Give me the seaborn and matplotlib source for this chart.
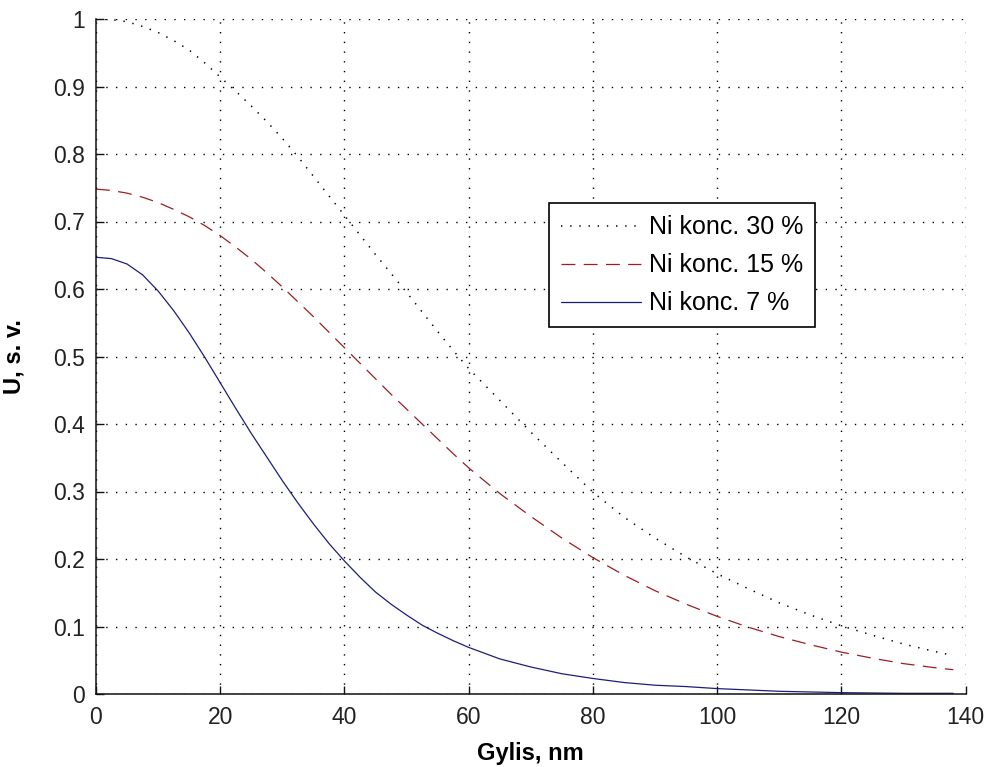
import matplotlib
matplotlib.use("Agg")
import matplotlib.pyplot as plt
from matplotlib.ticker import FixedLocator, FixedFormatter
import seaborn as sns

# Depth (nm) at which the signal was sampled
depth_nm = [0, 2.5, 5, 7.5, 10, 12.5, 15, 17.5, 20, 22.5, 25, 27.5, 30,
            32.5, 35, 37.5, 40, 42.5, 45, 47.5, 50, 52.5, 55, 57.5, 60,
            65, 70, 75, 80, 85, 90, 95, 100, 105, 110, 115, 120, 125, 130,
            135, 138]

# Normalised signal U for each Ni concentration
u_ni30 = [1.000, 0.999, 0.996, 0.989, 0.980, 0.968, 0.954, 0.935, 0.914,
          0.893, 0.871, 0.848, 0.823, 0.796, 0.767, 0.738, 0.709, 0.680,
          0.651, 0.623, 0.595, 0.566, 0.537, 0.509, 0.482,
          0.435, 0.388, 0.343, 0.299, 0.262, 0.231, 0.203, 0.178, 0.156,
          0.135, 0.117, 0.101, 0.087, 0.074, 0.063, 0.057]
u_ni15 = [0.748, 0.746, 0.742, 0.736, 0.728, 0.718, 0.707, 0.694, 0.679,
          0.662, 0.644, 0.624, 0.603, 0.581, 0.559, 0.536, 0.513, 0.490,
          0.467, 0.444, 0.422, 0.400, 0.378, 0.356, 0.335,
          0.297, 0.263, 0.231, 0.202, 0.176, 0.153, 0.133, 0.115, 0.099,
          0.085, 0.073, 0.062, 0.053, 0.045, 0.039, 0.036]
u_ni7 = [0.647, 0.645, 0.637, 0.621, 0.597, 0.568, 0.535, 0.499, 0.461,
         0.423, 0.386, 0.351, 0.316, 0.283, 0.252, 0.223, 0.197, 0.173,
         0.151, 0.133, 0.117, 0.102, 0.090, 0.079, 0.069,
         0.052, 0.040, 0.030, 0.023, 0.017, 0.013, 0.011, 0.008, 0.006,
         0.004, 0.003, 0.002, 0.0015, 0.001, 0.001, 0.001]

series_labels = ["Ni konc. 30 %", "Ni konc. 15 %", "Ni konc. 7 %"]
x_ticks = [0, 20, 40, 60, 80, 100, 120, 140]
y_ticks = [0, 0.1, 0.2, 0.3, 0.4, 0.5, 0.6, 0.7, 0.8, 0.9, 1.0]
y_tick_labels = ["0", "0.1", "0.2", "0.3", "0.4", "0.5", "0.6", "0.7",
                 "0.8", "0.9", "1"]
x_label = "Gylis, nm"
y_label = "U, s. v."

sns.set_theme(style="ticks")
plt.rcParams["font.family"] = ["Liberation Sans", "DejaVu Sans"]
plt.rcParams["lines.scale_dashes"] = False
plt.rcParams["text.color"] = "black"
plt.rcParams["axes.labelcolor"] = "black"

fig = plt.figure(figsize=(9.93, 7.67), dpi=100, facecolor="white")
ax = fig.add_axes([96 / 993, 73 / 767, 869.7 / 993, 675 / 767])
ax.set_facecolor("white")

styles = [
    dict(color="black", ls=(0, (1.0, 5.6)), lw=1.1),
    dict(color="#9a1f24", ls=(0, (10, 6)), lw=0.9),
    dict(color="#1c1f7a", ls="-", lw=0.9),
]
handles = []
for vals, lab, st in zip([u_ni30, u_ni15, u_ni7], series_labels, styles):
    sns.lineplot(x=depth_nm, y=vals, ax=ax, color=st["color"],
                 linewidth=st["lw"], legend=False)
    line = ax.get_lines()[-1]
    line.set_linestyle(st["ls"])
    line.set_label(lab)
    handles.append(line)

ax.set_xlim(0, 140)
ax.set_ylim(0, 1)
ax.xaxis.set_major_locator(FixedLocator(x_ticks))
ax.yaxis.set_major_locator(FixedLocator(y_ticks))
ax.yaxis.set_major_formatter(FixedFormatter(y_tick_labels))

ax.grid(True, color="black", linestyle=(0, (1.0, 6.0)), linewidth=1.0)
ax.set_axisbelow(True)

for side in ["top", "right"]:
    ax.spines[side].set_visible(False)
for side in ["left", "bottom"]:
    ax.spines[side].set_color("#111111")
    ax.spines[side].set_linewidth(1.1)

ax.tick_params(axis="both", direction="in", length=5.5, width=1.0,
               color="#111111", labelsize=16.5, labelcolor="#222222",
               top=False, right=False)
ax.tick_params(axis="x", pad=9)
ax.tick_params(axis="y", pad=8)

ax.set_xlabel(x_label, fontsize=17, fontweight="bold")
ax.set_ylabel(y_label, fontsize=17, fontweight="bold")
ax.xaxis.set_label_coords(0.5, -0.071)
ax.yaxis.set_label_coords(-0.081, 0.5)

leg = ax.legend(handles=handles, labels=series_labels, loc="upper left",
                bbox_to_anchor=(0.521, 0.727), borderaxespad=0,
                fontsize=18, frameon=True, fancybox=False, framealpha=1,
                edgecolor="black", handlelength=3.2, handletextpad=0.32,
                borderpad=0.48, labelspacing=0.56)
leg.get_frame().set_linewidth(1.2)

fig.savefig("out.png", dpi=100, facecolor="white")
